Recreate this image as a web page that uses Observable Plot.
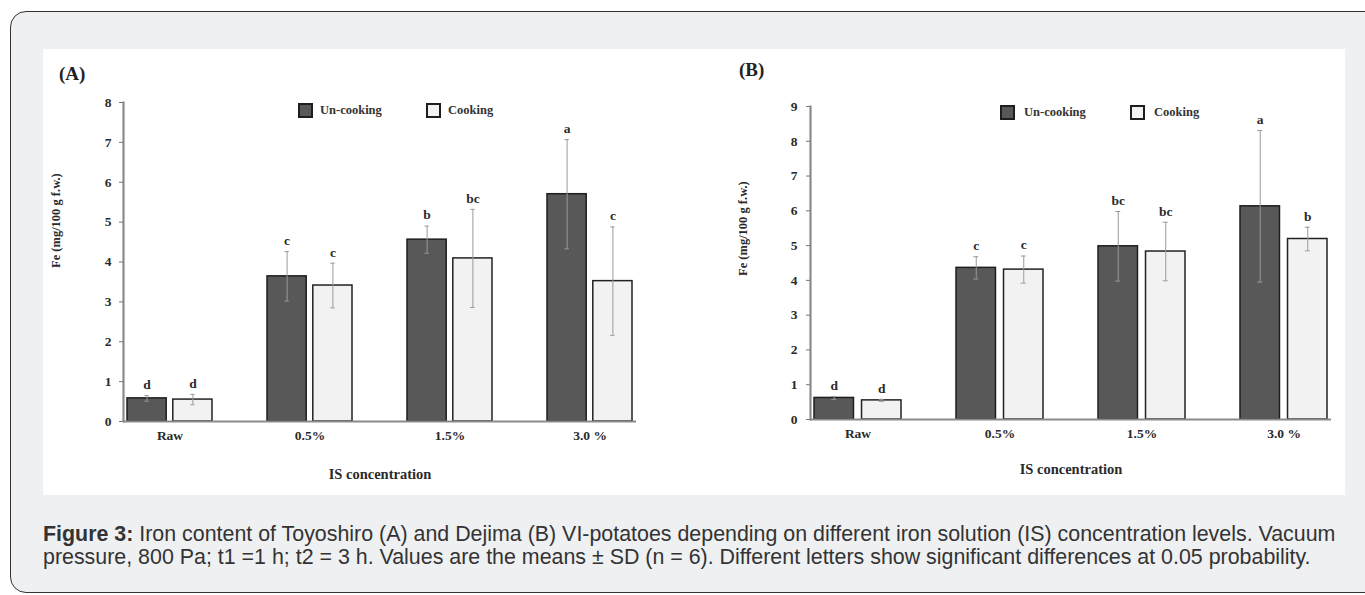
<!DOCTYPE html>
<html><head><meta charset="utf-8">
<script src="https://cdn.jsdelivr.net/npm/d3@7"></script>
<script src="https://cdn.jsdelivr.net/npm/@observablehq/plot@0.6"></script>
<style>
html,body{margin:0;padding:0;background:#fff;}
body{width:1365px;height:595px;overflow:hidden;position:relative;font-family:"Liberation Sans",Arial,sans-serif;}
#outer{position:absolute;left:10px;top:11px;width:1375px;height:582px;border:1.5px solid #333;border-radius:16px;background:#eff0f2;box-sizing:border-box;}
#panel{position:absolute;left:43px;top:49px;width:1302px;height:446px;background:#fff;}
.plot{position:absolute;top:49px;}
.plab{position:absolute;font-family:"Liberation Serif","Times New Roman",serif;font-weight:bold;font-size:19px;color:#222;line-height:1;}
.leg{position:absolute;font-family:"Liberation Serif","Times New Roman",serif;font-weight:bold;font-size:12.5px;color:#333;line-height:1;}
.sw{position:absolute;width:11px;height:11px;border:2px solid #1e1e1e;}
#caption{position:absolute;left:43px;top:523px;width:1315px;font-size:21.4px;line-height:23px;color:#333;white-space:nowrap;}
</style></head>
<body>
<div id="outer"></div>
<div id="panel"></div>
<div id="plotA" class="plot" style="left:43px"></div>
<div id="plotB" class="plot" style="left:693px"></div>
<div class="plab" style="left:59px;top:64px">(A)</div>
<div class="plab" style="left:739px;top:60px">(B)</div>

<div class="sw" style="left:298px;top:103px;background:#585858"></div>
<div class="leg" style="left:320px;top:104px">Un-cooking</div>
<div class="sw" style="left:426px;top:103px;background:#f2f2f2"></div>
<div class="leg" style="left:448px;top:104px">Cooking</div>

<div class="sw" style="left:1000px;top:105px;background:#585858"></div>
<div class="leg" style="left:1024px;top:106px">Un-cooking</div>
<div class="sw" style="left:1130px;top:105px;background:#f2f2f2"></div>
<div class="leg" style="left:1154px;top:106px">Cooking</div>

<div id="caption"><b>Figure 3:</b> Iron content of Toyoshiro (A) and Dejima (B) VI-potatoes depending on different iron solution (IS) concentration levels. Vacuum<br>pressure, 800 Pa; t1 =1 h; t2 = 3 h. Values are the means ± SD (n = 6). Different letters show significant differences at 0.05 probability.</div>

<script>
// ---- data ----
const categories = ["Raw", "0.5%", "1.5%", "3.0 %"];
const seriesNames = ["Un-cooking", "Cooking"];
const yTitle = "Fe (mg/100 g f.w.)";
const xTitle = "IS concentration";

// Panel A (Toyoshiro)
const meanA_un = [0.58, 3.64, 4.56, 5.70];
const sdA_un   = [0.07, 0.62, 0.34, 1.37];
const letA_un  = ["d", "c", "b", "a"];
const meanA_co = [0.55, 3.41, 4.09, 3.52];
const sdA_co   = [0.13, 0.56, 1.23, 1.36];
const letA_co  = ["d", "c", "bc", "c"];
const ticksA = [0, 1, 2, 3, 4, 5, 6, 7, 8];

// Panel B (Dejima)
const meanB_un = [0.62, 4.36, 4.98, 6.13];
const sdB_un   = [0.04, 0.32, 1.00, 2.18];
const letB_un  = ["d", "c", "bc", "a"];
const meanB_co = [0.55, 4.31, 4.83, 5.19];
const sdB_co   = [0.03, 0.39, 0.84, 0.34];
const letB_co  = ["d", "c", "bc", "b"];
const ticksB = [0, 1, 2, 3, 4, 5, 6, 7, 8, 9];

function rowsFor(m, s, l, name) {
  return categories.map((c, i) => ({cat: c, series: name, v: m[i], sd: s[i], lab: l[i]}));
}

function panel(cfg) {
  const {un, co, ticks, width, height, ml, mr, mt, mb, pi, po, gap, ytDy, xtDy, tickPad} = cfg;
  const step = (width - ml - mr) / (categories.length - pi + 2 * po);
  const bw = step * (1 - pi);
  const barW = (bw - gap) / 2;
  const off = (barW + gap) / 2;
  const capIn = bw / 2 - 2.5;
  const serif = "'Liberation Serif','Times New Roman',serif";
  const errMarks = (rows, dx) => [
    Plot.ruleX(rows, {x: "cat", y1: d => d.v - d.sd, y2: d => d.v + d.sd, dx, stroke: "#9a9a9a", strokeWidth: 1}),
    Plot.tickY(rows, {x: "cat", y: d => d.v + d.sd, dx, insetLeft: capIn, insetRight: capIn, stroke: "#9a9a9a", strokeWidth: 1}),
    Plot.tickY(rows, {x: "cat", y: d => d.v - d.sd, dx, insetLeft: capIn, insetRight: capIn, stroke: "#9a9a9a", strokeWidth: 1}),
    Plot.text(rows, {x: "cat", y: d => d.v + d.sd, text: "lab", dx, dy: -11, fontWeight: "bold", fontSize: 13.5, fill: "#2a2a2a"})
  ];
  return Plot.plot({
    width, height,
    marginLeft: ml, marginRight: mr, marginTop: mt, marginBottom: mb,
    style: {fontFamily: serif, fontSize: "13px", fontWeight: "bold", color: "#2a2a2a", background: "transparent", overflow: "visible"},
    x: {type: "band", domain: categories, paddingInner: pi, paddingOuter: po},
    y: {domain: [0, ticks[ticks.length - 1]]},
    marks: [
      Plot.barY(un, {x: "cat", y: "v", fill: "#585858", stroke: "#1e1e1e", strokeWidth: 1.5, insetLeft: 0, insetRight: barW + gap}),
      Plot.barY(co, {x: "cat", y: "v", fill: "#f2f2f2", stroke: "#222", strokeWidth: 1.5, insetLeft: barW + gap, insetRight: 0}),
      ...errMarks(un, -off),
      ...errMarks(co, off),
      Plot.ruleY([0], {stroke: "#8a8a8a", strokeWidth: 2.2}),
      Plot.frame({anchor: "left", stroke: "#8a8a8a", strokeWidth: 2.2}),
      Plot.axisY({ticks, tickFormat: d3.format("d"), tickSize: 4, tickPadding: tickPad, stroke: "#777", label: null, fontSize: 13.5, fontWeight: "bold"}),
      Plot.axisX({tickSize: 0, tickPadding: 9, label: null, fontSize: 13.5, fontWeight: "bold"}),
      Plot.text([yTitle], {frameAnchor: "left", rotate: -90, dx: -68, dy: ytDy, fontSize: 12.5, fontWeight: "bold", fill: "#2a2a2a"}),
      Plot.text([xTitle], {frameAnchor: "bottom", dy: xtDy, fontSize: 14.5, fontWeight: "bold", fill: "#2a2a2a"})
    ]
  });
}

document.getElementById("plotA").appendChild(panel({
  un: rowsFor(meanA_un, sdA_un, letA_un, seriesNames[0]),
  co: rowsFor(meanA_co, sdA_co, letA_co, seriesNames[1]),
  ticks: ticksA, width: 650, height: 446, ml: 80, mr: 57, mt: 53, mb: 74,
  pi: 0.39, po: 0.023, gap: 6, ytDy: 6, xtDy: 57, tickPad: 8
}));

document.getElementById("plotB").appendChild(panel({
  un: rowsFor(meanB_un, sdB_un, letB_un, seriesNames[0]),
  co: rowsFor(meanB_co, sdB_co, letB_co, seriesNames[1]),
  ticks: ticksB, width: 652, height: 446, ml: 117, mr: 14, mt: 57, mb: 76,
  pi: 0.387, po: 0.028, gap: 8, ytDy: 13, xtDy: 54, tickPad: 9
}));
</script>
</body></html>
